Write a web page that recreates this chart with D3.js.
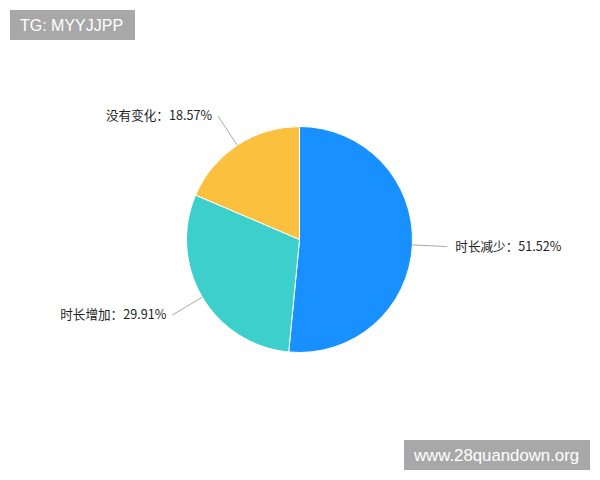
<html>
<head>
    <meta charset="utf-8">
    <script src="https://d3js.org/d3.v7.min.js"></script>
    <style>
        body { margin: 0; background: #fff; }
    </style>
</head>
<body>
    <svg id="chart" width="600" height="480"></svg>
    <script>
        const labels = ["时长减少", "时长增加", "没有变化"]
        const values = [51.52, 29.91, 18.57]
        const colors = ["#1890FF", "#3CCFCB", "#FBC13E"]

        let svg = d3.select("#chart"),
            cx = 299.5, cy = 239.5, r = 113

        let pie = d3.pie().sort(null).value(d => d)
        let arcs = pie(values)
        let arc = d3.arc().innerRadius(0).outerRadius(r)

        let g = svg.append("g").attr("transform", `translate(${cx},${cy})`)

        g.selectAll("path.slice")
            .data(arcs)
            .enter().append("path")
            .attr("class", "slice")
            .attr("d", arc)
            .attr("fill", (d, i) => colors[i])
            .attr("stroke", "#fff")
            .attr("stroke-width", 1)

        // leader lines go straight out from the edge
        function pt(a, rad) {
            return [Math.sin(a) * rad, -Math.cos(a) * rad]
        }

        arcs.forEach(function(d, i) {
            let mid = (d.startAngle + d.endAngle) / 2
            let p0 = pt(mid, r), p1 = pt(mid, r + 35)
            g.append("line")
                .attr("x1", p0[0]).attr("y1", p0[1])
                .attr("x2", p1[0]).attr("y2", p1[1])
                .attr("stroke", "#aaa")
                .attr("stroke-width", 1)
            let right = Math.sin(mid) > 0
            g.append("text")
                .attr("x", p1[0] + (right ? 8 : -6))
                .attr("y", p1[1])
                .attr("dy", "0.35em")
                .attr("text-anchor", right ? "start" : "end")
                .style("font-family", "'Noto Sans CJK SC', sans-serif")
                .style("font-size", "12.6px")
                .attr("fill", "#222")
                .text(labels[i] + "：" + values[i].toFixed(2) + "%")
        })

        // watermarks
        svg.append("rect").attr("x", 10).attr("y", 10).attr("width", 125).attr("height", 30).attr("fill", "#a8a8a8")
        svg.append("text").attr("x", 20).attr("y", 31).text("TG: MYYJJPP")
            .style("font-family", "'Liberation Sans', Arial, sans-serif").style("font-size", "16px").attr("fill", "#fff")

        svg.append("rect").attr("x", 404).attr("y", 440).attr("width", 186).attr("height", 30).attr("fill", "#a8a8a8")
        svg.append("text").attr("x", 414).attr("y", 461).text("www.28quandown.org")
            .style("font-family", "'Liberation Sans', Arial, sans-serif").style("font-size", "16.8px").attr("fill", "#fff")
    </script>
</body>
</html>
